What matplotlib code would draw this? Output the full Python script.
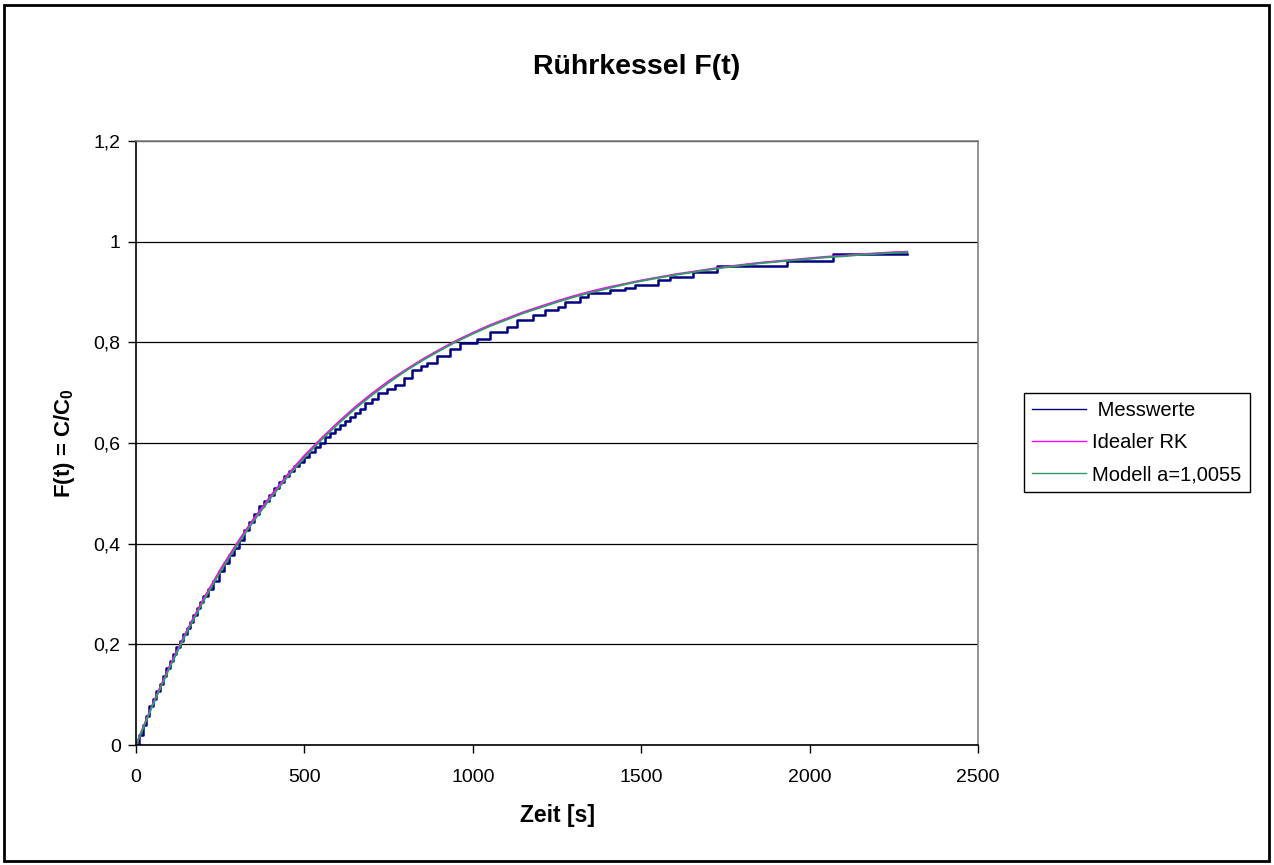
import numpy as np
import matplotlib.pyplot as plt
from matplotlib.patches import Rectangle

plt.rcParams['font.family'] = ['Liberation Sans', 'DejaVu Sans']
plt.rcParams['mathtext.fontset'] = 'custom'
plt.rcParams['mathtext.rm'] = 'Liberation Sans'
plt.rcParams['mathtext.bf'] = 'Liberation Sans:bold'
plt.rcParams['mathtext.default'] = 'bf'

meas_t = [0, 10, 20, 30, 40, 50, 60, 70, 80, 90, 100, 110, 120, 130, 140, 150,
          160, 170, 180, 190, 200, 215, 230, 245, 260, 275, 290, 305, 320, 335,
          350, 365, 380, 395, 410, 425, 440, 455, 470, 485, 500, 515, 530, 545,
          560, 575, 590, 605, 620, 635, 650, 665, 680, 700, 720, 745, 770, 795,
          820, 845, 865, 895, 933, 963, 1012, 1052, 1101, 1131, 1180, 1215, 1254,
          1274, 1318, 1343, 1407, 1452, 1482, 1551, 1586, 1655, 1725, 1933, 2070,
          2288]
meas_f = [0.000, 0.020, 0.040, 0.058, 0.078, 0.092, 0.108, 0.122, 0.138, 0.153,
          0.166, 0.180, 0.194, 0.207, 0.220, 0.232, 0.244, 0.258, 0.272, 0.284,
          0.296, 0.310, 0.326, 0.345, 0.362, 0.378, 0.392, 0.408, 0.428, 0.444,
          0.458, 0.474, 0.484, 0.496, 0.510, 0.522, 0.534, 0.544, 0.554, 0.563,
          0.572, 0.582, 0.592, 0.600, 0.611, 0.620, 0.628, 0.636, 0.644, 0.652,
          0.660, 0.668, 0.679, 0.688, 0.699, 0.708, 0.716, 0.730, 0.745, 0.752,
          0.759, 0.772, 0.787, 0.799, 0.807, 0.820, 0.830, 0.845, 0.855, 0.865,
          0.871, 0.881, 0.890, 0.898, 0.903, 0.908, 0.913, 0.924, 0.930, 0.940,
          0.951, 0.961, 0.975, 0.976]

# Idealer RK und Modell
curve_t = [0, 50, 100, 150, 200, 250, 300, 350, 400, 450, 500, 550, 600, 650,
           700, 750, 800, 850, 900, 950, 1000, 1050, 1100, 1150, 1200, 1250,
           1300, 1350, 1400, 1450, 1500, 1550, 1600, 1650, 1700, 1750, 1800,
           1850, 1900, 1950, 2000, 2050, 2100, 2150, 2200, 2250, 2290]
ideal_f = [0, .082, .157, .226, .290, .348, .401, .450, .495, .537, .575, .609,
           .641, .671, .698, .723, .745, .766, .785, .803, .819, .834, .847, .860,
           .871, .882, .892, .901, .909, .916, .923, .929, .935, .940, .945, .950,
           .954, .958, .961, .964, .967, .970, .972, .975, .977, .979, .980]
model_f = [0, .080, .154, .223, .286, .344, .397, .446, .491, .533, .571, .606,
           .638, .668, .695, .720, .743, .764, .783, .801, .817, .832, .845, .858,
           .869, .880, .890, .899, .907, .915, .922, .928, .934, .939, .944, .949,
           .953, .957, .960, .963, .966, .969, .971, .974, .976, .978, .979]

x_ticks = [0, 500, 1000, 1500, 2000, 2500]
y_ticks = [0, 0.2, 0.4, 0.6, 0.8, 1.0, 1.2]
y_labels = ['0', '0,2', '0,4', '0,6', '0,8', '1', '1,2']

fig = plt.figure(figsize=(12.74, 8.65), dpi=100)
ax = fig.add_axes([136/1274, 1 - 745/865, (978 - 136)/1274, (745 - 141)/865])

ax.step(meas_t, meas_f, where='post', color='#000080', lw=1.8, label=' Messwerte')
ax.plot(curve_t, ideal_f, color='#FF00FF', lw=1.4, label='Idealer RK')
ax.plot(curve_t, model_f, color='#339966', lw=1.4, label='Modell a=1,0055')

ax.set_xlim(0, 2500)
ax.set_ylim(0, 1.2)
ax.set_xticks(x_ticks)
ax.set_yticks(y_ticks)
ax.set_yticklabels(y_labels)
ax.tick_params(direction='out', length=6, width=1, labelsize=14)
ax.tick_params(axis='x', pad=11)
ax.tick_params(axis='y', pad=5)
ax.yaxis.grid(True, color='black', lw=0.9)
ax.set_axisbelow(True)
for s in ['left', 'bottom']:
    ax.spines[s].set_color('black')
    ax.spines[s].set_linewidth(1.2)
for s in ['top', 'right']:
    ax.spines[s].set_color('#808080')
    ax.spines[s].set_linewidth(1.2)

ax.set_xlabel('Zeit [s]', fontsize=16.5, fontweight='bold', labelpad=13)
ax.set_ylabel('F(t) = C/C$_0$', fontsize=16, fontweight='bold', labelpad=12)
fig.text(0.5, 1 - 67/865, 'Rührkessel F(t)', ha='center', va='center',
         fontsize=20.5, fontweight='bold')

leg = fig.legend(loc='upper left', bbox_to_anchor=(1024/1274, 1 - 393/865),
                 fontsize=14.5, frameon=True, fancybox=False, framealpha=1,
                 edgecolor='black', handlelength=2.7, borderpad=0.4,
                 labelspacing=0.65, handletextpad=0.3, borderaxespad=0)
leg.get_frame().set_linewidth(1.0)
for h in leg.get_lines():
    h.set_linewidth(1.0)

fig.patches.append(Rectangle((4/1274, 4/865), 1 - 9/1274, 1 - 9/865,
                             transform=fig.transFigure, fill=False,
                             edgecolor='black', lw=2))

fig.savefig('out.png', dpi=100)
